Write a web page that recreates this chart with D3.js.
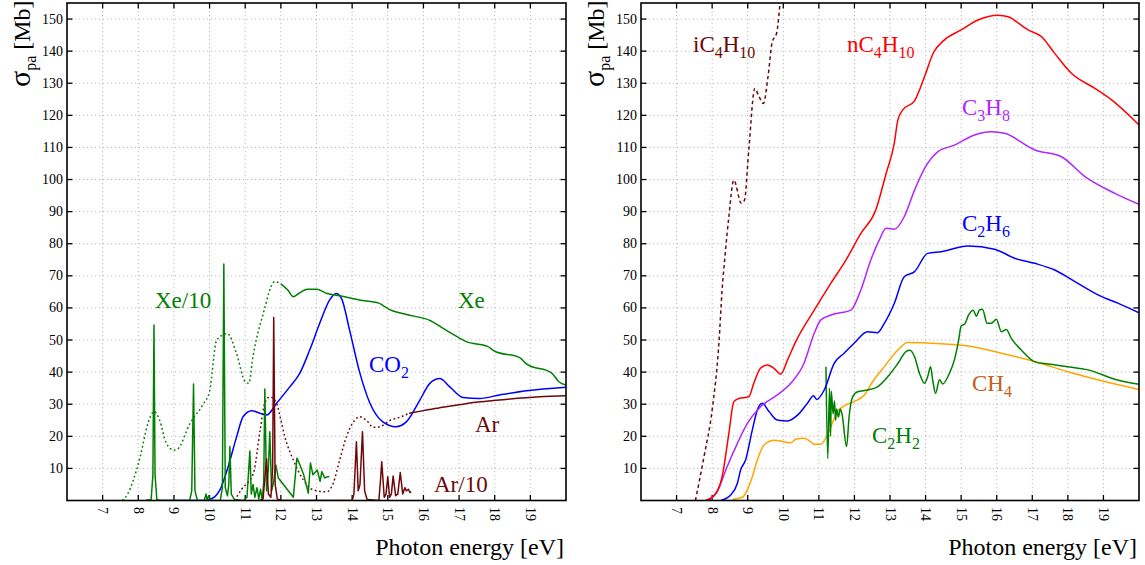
<!DOCTYPE html>
<html><head><meta charset="utf-8">
<script src="https://cdn.jsdelivr.net/npm/d3@7"></script>
<style>
html,body{margin:0;padding:0;background:#fff;}
svg{display:block;font-family:"Liberation Serif","DejaVu Serif",serif;}
</style></head>
<body><svg id="c" width="1145" height="565"></svg>
<script>
// ---------- data (photon energy [eV], sigma_pa [Mb]) ----------
const xTicks = [7,8,9,10,11,12,13,14,15,16,17,18,19];
const yTicks = [10,20,30,40,50,60,70,80,90,100,110,120,130,140,150];

// left panel
const xeDotted = [[7.55,0],[7.7,2],[7.85,6],[8.05,13.5],[8.27,24],[8.44,27.7],[8.6,25],[8.78,18],[9.0,15.7],[9.1,16],[9.45,24],[9.82,30],[10.0,34],[10.2,50],[10.5,52],[10.75,46],[11.0,37],[11.1,36.5],[11.22,45],[11.5,58],[11.83,68.2],[12.0,67.5]];
const xeSolid = [[12.0,67.5],[12.2,65.5],[12.35,63.5],[12.5,64.5],[12.75,65.8],[13.0,65.8],[13.3,64.5],[13.65,63.8],[14.2,62.5],[14.75,61.5],[14.9,60.5],[15.0,59.8],[15.5,58],[16.2,56],[16.5,54],[16.8,52],[17.2,49.5],[17.8,48],[18.0,46.5],[18.7,44.5],[18.9,42.5],[19.6,39.7],[19.8,37],[20,36]];
const xe10 = [[8.2,0],[8.36,0.3],[8.41,8],[8.44,54.7],[8.47,8],[8.52,0.3],[8.6,0],[9.44,0],[9.5,3],[9.55,36.3],[9.59,3],[9.66,0],[9.85,0],[9.9,2],[9.93,0.3],[9.98,1.5],[10.02,0],[10.3,0],[10.36,4],[10.4,73.7],[10.44,4],[10.5,1.5],[10.54,5],[10.57,16.8],[10.61,2],[10.7,0.3],[10.95,0],[11.05,1],[11.13,15.4],[11.17,2],[11.22,5],[11.27,1],[11.33,4],[11.38,0.5],[11.43,3.5],[11.48,0],[11.52,6],[11.55,34.7],[11.6,3],[11.65,10],[11.69,21.4],[11.74,3],[11.8,6],[11.86,11],[11.93,7],[12.35,1],[12.45,13.2],[12.54,11],[12.64,8],[12.77,2.3],[12.83,11.7],[12.9,8],[13.02,9.5],[13.1,6],[13.15,9],[13.23,7],[13.28,7.3],[13.36,7.5]];
const co2 = [[8.5,0],[9.9,0],[10.0,0.3],[10.15,1.2],[10.29,3.3],[10.52,10.5],[10.76,19.9],[10.94,26.1],[11.18,28],[11.36,27.4],[11.6,26.6],[11.88,30.3],[12.25,35.4],[12.53,39.6],[12.81,46.9],[13.09,55.2],[13.37,62.5],[13.55,64.5],[13.7,63],[13.93,53],[14.21,40],[14.5,30.3],[14.86,24.5],[15.23,23],[15.52,24.5],[15.9,31.3],[16.18,36.5],[16.46,38],[16.74,35.4],[17.11,32.1],[17.58,31.8],[18.14,32.9],[18.89,34.2],[20,35.3]];
const arDotted = [[10.7,0],[10.9,3.5],[11.23,8.5],[11.42,22],[11.55,30.3],[11.69,32.3],[11.88,30.3],[11.98,26],[12.11,19.9],[12.35,12.6],[12.63,6.4],[12.91,3.3],[13.28,2.7],[13.47,5.4],[13.65,12.6],[13.84,19.9],[14.07,25],[14.2,26.1],[14.4,25],[14.59,22.8],[14.78,23],[15.05,24.9],[15.33,25.9],[15.6,27.2]];
const arSolid = [[15.6,27.2],[16.0,28],[16.46,28.9],[17.0,29.8],[17.4,30.5],[18.3,31.5],[19.26,32.3],[20,32.6]];
const ar10 = [[11.4,0],[11.5,0.5],[11.56,8],[11.6,13],[11.65,2],[11.72,1],[11.77,10],[11.8,57],[11.84,5],[11.9,0.5],[12.0,0],[14.0,0],[14.05,2],[14.12,18.3],[14.17,3],[14.22,5],[14.29,21.4],[14.35,3],[14.42,0.3],[14.75,0],[14.8,7],[14.83,12.1],[14.9,1],[14.95,2],[15.0,7.4],[15.05,1],[15.1,2],[15.15,7.6],[15.22,1.5],[15.28,2],[15.35,8.7],[15.42,2],[15.48,4],[15.52,3],[15.58,3.5],[15.62,2.5],[15.66,2.7]];

// right panel
const ic4h10 = [[7.53,0],[7.77,13.6],[8.0,28.2],[8.19,49],[8.28,65.6],[8.36,76],[8.47,88.4],[8.61,99.8],[8.82,92.6],[8.91,93.6],[9.03,109.2],[9.2,128.4],[9.32,125.8],[9.44,123.7],[9.57,132],[9.69,142.9],[9.81,145.5],[9.93,158]];
const nc4h10 = [[7.81,0],[8.1,2.2],[8.28,7.4],[8.47,20.9],[8.61,30.8],[8.75,31.8],[9.03,32.3],[9.17,36.5],[9.36,41.2],[9.55,42.2],[9.74,41.2],[9.93,39.4],[10.12,43.8],[10.35,49.5],[10.87,59.3],[11.34,67.7],[11.76,74.9],[12.18,83.2],[12.6,90.5],[12.89,101.9],[13.12,111.3],[13.22,118.5],[13.36,121.7],[13.69,124.5],[13.97,132],[14.22,139.5],[14.5,143.2],[15.0,146.6],[15.47,149.7],[16.04,151.2],[16.32,150.7],[16.88,146.6],[17.26,144.5],[17.63,139.3],[18.1,133.1],[18.76,128.4],[19.23,124.8],[20,117]];
const c3h8 = [[7.9,0],[8.14,2.7],[8.42,10.5],[8.71,17.8],[8.99,24],[9.36,29.2],[9.83,32.9],[10.21,36.5],[10.58,42.7],[10.87,52.1],[11.05,56.2],[11.34,57.8],[11.9,59.3],[12.18,65.6],[12.46,74.9],[12.7,81.2],[12.89,84.8],[13.12,84.5],[13.4,88.4],[13.69,96.7],[14.0,104],[14.35,108.7],[14.81,110.7],[15.38,113.9],[15.85,114.9],[16.22,114.4],[17.07,109.2],[17.82,107.1],[18.48,100.9],[19.32,95.7],[20,92.3]];
const c2h6 = [[8.24,0],[8.52,1.7],[8.71,5.4],[8.8,9.5],[8.94,12.6],[9.13,22],[9.27,28.2],[9.41,30.3],[9.6,27.7],[9.83,25.1],[10.12,24.8],[10.4,26.6],[10.68,30.3],[10.85,32.6],[10.94,31.5],[11.15,34.4],[11.43,42.7],[11.71,45.9],[11.99,49],[12.37,52.6],[12.65,52.3],[12.84,55.2],[13.12,61.4],[13.4,69.7],[13.69,71.3],[14.06,77],[14.44,77.5],[15.19,79.3],[15.94,78.3],[16.5,75.5],[17.07,73.9],[17.63,71.8],[18.2,68.2],[18.86,64],[19.42,61.4],[20,58.5]];
const ch4 = [[8.57,0.3],[8.85,1],[8.99,3.3],[9.13,7.4],[9.27,12.6],[9.46,17.3],[9.74,18.8],[10.02,18.3],[10.21,18],[10.35,19.1],[10.58,19.4],[10.77,18.3],[10.87,17.5],[11.05,17.5],[11.24,20.4],[11.52,27.7],[11.76,29.8],[11.99,30.8],[12.28,32.9],[12.51,37],[12.84,41.7],[13.22,46.9],[13.5,49.2],[14.44,48.8],[15.19,48.1],[16.13,45.9],[17.07,43.3],[18.0,40.1],[18.95,37.3],[20,34.6]];
const c2h2 = [[11.2,41.7],[11.25,13.1],[11.3,35],[11.33,20],[11.35,34],[11.4,27],[11.44,31],[11.47,25],[11.5,28.5],[11.55,26],[11.6,28.5],[11.65,27],[11.78,16.8],[11.85,26.1],[11.95,32.3],[12.09,33.9],[12.37,34.4],[12.65,35.4],[12.94,38.6],[13.22,42.7],[13.45,46.4],[13.56,46.8],[13.69,44.8],[13.83,39.6],[13.97,36.5],[14.06,38.6],[14.14,41.7],[14.2,37.6],[14.28,33.4],[14.39,37.6],[14.48,36.3],[14.67,39.6],[14.81,43.8],[14.93,50],[15.0,54.4],[15.1,55],[15.21,57.8],[15.34,59.3],[15.43,57.4],[15.51,59.3],[15.6,59.6],[15.73,55.2],[15.85,55.2],[15.99,56.5],[16.13,52.6],[16.27,53.3],[16.41,50.5],[16.69,46.9],[17.07,43.2],[17.45,42.5],[18.0,41.7],[18.57,40.7],[19.32,37.8],[20,36.2]];

// ---------- drawing ----------
const svg = d3.select("#c");
const GREEN = "#008000", MAROON = "#6e0808", BLUE = "#0000ff";

function panel(id, x0, x1, yAxisX) {
  const x = d3.scaleLinear().domain([6,20]).range([x0,x1]);
  const y = d3.scaleLinear().domain([0,155]).range([500.5,3]);
  const g = svg.append("g");
  svg.append("clipPath").attr("id","clip"+id).append("rect")
    .attr("x",x0).attr("y",3).attr("width",x1-x0).attr("height",497.5);
  g.selectAll(".gx").data(xTicks).join("line")
    .attr("x1",d=>x(d)).attr("x2",d=>x(d)).attr("y1",3).attr("y2",500.5)
    .attr("stroke","#bbb").attr("stroke-width",1).attr("stroke-dasharray","1.2,2.8");
  g.selectAll(".gy").data(yTicks).join("line")
    .attr("y1",d=>y(d)).attr("y2",d=>y(d)).attr("x1",x0).attr("x2",x1)
    .attr("stroke","#bbb").attr("stroke-width",1).attr("stroke-dasharray","1.2,2.8");
  const t = g.append("g").attr("stroke","#000").attr("stroke-width",1.3);
  xTicks.forEach(d=>{
    t.append("line").attr("x1",x(d)).attr("x2",x(d)).attr("y1",500.5).attr("y2",495);
    t.append("line").attr("x1",x(d)).attr("x2",x(d)).attr("y1",3).attr("y2",8.5);
  });
  yTicks.forEach(d=>{
    t.append("line").attr("y1",y(d)).attr("y2",y(d)).attr("x1",x0).attr("x2",x0+5.5);
    t.append("line").attr("y1",y(d)).attr("y2",y(d)).attr("x1",x1).attr("x2",x1-5.5);
  });
  g.selectAll(".tx").data(xTicks).join("text")
    .attr("transform",d=>`translate(${x(d)},507) rotate(90)`)
    .attr("dominant-baseline","central").attr("font-size",14).attr("fill","#000")
    .text(d=>d);
  g.selectAll(".ty").data(yTicks).join("text")
    .attr("x",x0-4).attr("y",d=>y(d)).attr("text-anchor","end")
    .attr("dominant-baseline","central").attr("font-size",14).attr("fill","#000")
    .text(d=>d);
  const yt = g.append("text").attr("transform",`translate(${yAxisX},87) rotate(-90)`)
    .attr("font-size",24).attr("fill","#000");
  yt.append("tspan").attr("font-size",30).text("σ");
  yt.append("tspan").attr("font-size",16).attr("dy",6).text("pa");
  yt.append("tspan").attr("dy",-6).text(" [Mb]");
  g.append("text").attr("x",x1-2).attr("y",555).attr("text-anchor","end")
    .attr("font-size",24).attr("fill","#000").text("Photon energy [eV]");
  const plot = svg.append("g").attr("clip-path",`url(#clip${id})`);
  return {x,y,g,plot,x0,x1};
}

function drawLine(p, data, color, opts={}) {
  const line = d3.line().x(d=>p.x(d[0])).y(d=>p.y(d[1]))
    .curve(opts.linear ? d3.curveLinear : d3.curveMonotoneX);
  p.plot.append("path").datum(data).attr("d",line).attr("fill","none")
    .attr("stroke",color).attr("stroke-width",opts.w||1.5)
    .attr("stroke-dasharray",opts.dash||null).attr("stroke-linejoin","round");
}

// parts: plain strings are normal text, arrays like ["4"] are subscripts
function label(x, y, parts, color) {
  const t = svg.append("text").attr("x",x).attr("y",y).attr("font-size",23).attr("fill",color);
  let shifted = false;
  parts.forEach(s=>{
    if (Array.isArray(s)) { t.append("tspan").attr("font-size",16).attr("dy",shifted?0:6).text(s[0]); shifted=true; }
    else { t.append("tspan").attr("dy",shifted?-6:0).text(s); shifted=false; }
  });
}

const L = panel("L", 67, 566, 30);
drawLine(L, xeDotted, GREEN, {dash:"1.8,2.6"});
drawLine(L, arDotted, MAROON, {dash:"1.8,2.6"});
drawLine(L, co2, BLUE);
drawLine(L, arSolid, MAROON);
drawLine(L, xeSolid, GREEN);
drawLine(L, xe10, GREEN, {linear:true});
drawLine(L, ar10, MAROON, {linear:true});

const R = panel("R", 641, 1139, 604);
drawLine(R, ic4h10, MAROON, {dash:"3.5,3"});
drawLine(R, ch4, "#ffa500");
drawLine(R, c2h2, GREEN);
drawLine(R, c2h6, BLUE);
drawLine(R, c3h8, "#b026ff");
drawLine(R, nc4h10, "#ff0000");

[L,R].forEach(p=>{
  svg.append("rect").attr("x",p.x0).attr("y",3).attr("width",p.x1-p.x0).attr("height",497.5)
    .attr("fill","none").attr("stroke","#000").attr("stroke-width",1.6);
});

label(155,308,["Xe/10"],GREEN);
label(458,308,["Xe"],GREEN);
label(369,372,["CO",["2"]],BLUE);
label(475,432,["Ar"],MAROON);
label(434,492,["Ar/10"],MAROON);

label(693,52,["iC",["4"],"H",["10"]],MAROON);
label(847,52,["nC",["4"],"H",["10"]],"#ff0000");
label(962,115,["C",["3"],"H",["8"]],"#b026ff");
label(962,231,["C",["2"],"H",["6"]],BLUE);
label(972,391,["CH",["4"]],"#c0601c");
label(872,443,["C",["2"],"H",["2"]],GREEN);
</script></body></html>
